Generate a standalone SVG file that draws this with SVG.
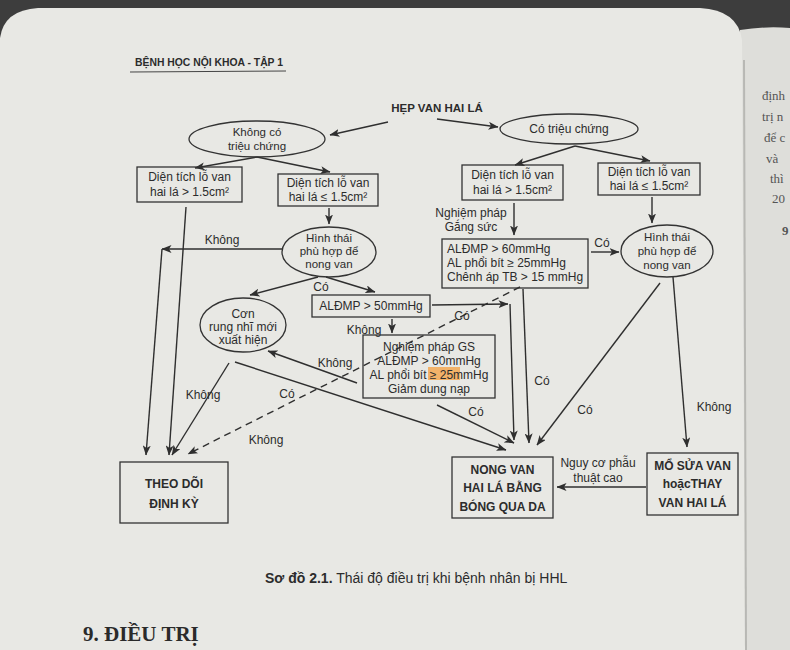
<svg xmlns="http://www.w3.org/2000/svg" width="790" height="650" viewBox="0 0 790 650">
<defs>
<marker id="ah" markerUnits="userSpaceOnUse" markerWidth="10" markerHeight="8" refX="9.5" refY="4" orient="auto">
<path d="M0,0 L10,4 L0,8 L2.5,4 Z" fill="#2f2f2f"/>
</marker>
<style>
.t{font-family:"Liberation Sans",Arial,sans-serif;font-size:12px;fill:#2c2c2c;text-anchor:middle}
.l{text-anchor:start}
.b{font-weight:bold}
.n{fill:none;stroke:#333;stroke-width:1.3}
.c{fill:none;stroke:#2f2f2f;stroke-width:1.4}
.a{marker-end:url(#ah)}
.d{stroke-dasharray:7 5}
.pg{font-family:"Liberation Serif",serif;font-size:13px;fill:#555}
</style>
</defs>
<rect width="790" height="650" fill="#3d3d3d"/>
<path d="M740,30 Q765,26 790,28 L790,650 L738,650 Z" fill="#dededa"/>
<path d="M0,38 Q4,10 38,8 L700,8 Q738,10 742,40 L745,650 L0,650 Z" fill="#e8e8e4"/>
<line x1="744" y1="60" x2="746" y2="650" stroke="#b8b8b4" stroke-width="2"/>
<g id="next-page">
<text class="pg" x="762" y="100">định</text>
<text class="pg" x="762" y="121">trị n</text>
<text class="pg" x="764" y="142">để c</text>
<text class="pg" x="766" y="163">và</text>
<text class="pg" x="770" y="183">thì</text>
<text class="pg" x="772" y="203">20</text>
<text class="pg" x="782" y="235" style="font-weight:bold">9</text>
</g>
<g id="header">
<text class="t l b" x="135" y="66" style="font-family:'Liberation Sans Narrow','Liberation Sans',sans-serif;font-size:11.5px" textLength="148" lengthAdjust="spacingAndGlyphs">BỆNH HỌC NỘI KHOA - TẬP 1</text>
<line x1="130" y1="72" x2="286" y2="71" stroke="#444" stroke-width="1"/>
</g>
<g id="connectors">
<line class="c a" x1="388" y1="122" x2="330" y2="135"/>
<line class="c a" x1="437" y1="119" x2="498" y2="127"/>
<line class="c a" x1="257" y1="157" x2="195" y2="168"/>
<line class="c a" x1="257" y1="157" x2="330" y2="172"/>
<line class="c a" x1="575" y1="146" x2="515" y2="165"/>
<line class="c a" x1="575" y1="146" x2="650" y2="161"/>
<line class="c a" x1="329" y1="208" x2="329" y2="224"/>
<line class="c a" x1="652" y1="197" x2="652" y2="223"/>
<line class="c a" x1="514" y1="203" x2="514" y2="235"/>
<line class="c a" x1="591" y1="252" x2="619" y2="252"/>
<line class="c a" x1="282" y1="249" x2="162" y2="249"/>
<line class="c a" x1="162" y1="249" x2="146" y2="455"/>
<line class="c a" x1="186" y1="207" x2="169" y2="455"/>
<line class="c a" x1="318" y1="277" x2="250" y2="295"/>
<line class="c a" x1="326" y1="277" x2="375" y2="292"/>
<line class="c a" x1="432" y1="305" x2="508" y2="304"/>
<line class="c a" x1="510" y1="304" x2="514" y2="440"/>
<line class="c a" x1="392" y1="319" x2="392" y2="333"/>
<line class="c a" x1="357" y1="383" x2="268" y2="351"/>
<line class="c a" x1="229" y1="363" x2="172" y2="455"/>
<line class="c a" x1="235" y1="362" x2="506" y2="450"/>
<line class="c a" x1="437" y1="405" x2="514" y2="443"/>
<line class="c a d" x1="520" y1="287" x2="188" y2="454"/>
<line class="c a" x1="523" y1="289" x2="529" y2="443"/>
<line class="c a" x1="660" y1="283" x2="537" y2="445"/>
<line class="c a" x1="673" y1="277" x2="687" y2="447"/>
<line class="c a" x1="646" y1="487" x2="557" y2="487"/>
</g>
<g id="labels">
<text class="t" x="222" y="244">Không</text>
<text class="t" x="321" y="291">Có</text>
<text class="t" x="471" y="217">Nghiệm pháp</text>
<text class="t" x="471" y="231">Gắng sức</text>
<text class="t" x="602" y="247">Có</text>
<text class="t" x="462" y="320">Có</text>
<text class="t" x="364" y="334">Không</text>
<text class="t" x="335" y="367">Không</text>
<text class="t" x="203" y="399">Không</text>
<text class="t" x="287" y="398">Có</text>
<text class="t" x="266" y="444">Không</text>
<text class="t" x="476" y="416">Có</text>
<text class="t" x="542" y="385">Có</text>
<text class="t" x="585" y="414">Có</text>
<text class="t" x="714" y="411">Không</text>
<text class="t" x="598" y="467">Nguy cơ phẫu</text>
<text class="t" x="598" y="482">thuật cao</text>
</g>
<g id="n-root"><text class="t b" x="437" y="112" style="font-size:11.5px">HẸP VAN HAI LÁ</text></g>
<g id="n-khongtc">
<ellipse class="n" cx="257" cy="139" rx="68" ry="18"/>
<text class="t" x="257" y="136" style="font-size:11.5px">Không có</text>
<text class="t" x="257" y="150" style="font-size:11.5px">triệu chứng</text>
</g>
<g id="n-cotc">
<ellipse class="n" cx="569" cy="129" rx="69" ry="15"/>
<text class="t" x="569" y="133">Có triệu chứng</text>
</g>
<g id="n-dt1">
<rect class="n" x="137" y="167" width="105" height="35"/>
<text class="t" x="189.5" y="181">Diện tích lỗ van</text>
<text class="t" x="189.5" y="196">hai lá &gt; 1.5cm²</text>
</g>
<g id="n-dt2">
<rect class="n" x="278" y="174" width="100" height="32"/>
<text class="t" x="328" y="187">Diện tích lỗ van</text>
<text class="t" x="328" y="201">hai lá ≤ 1.5cm²</text>
</g>
<g id="n-dt3">
<rect class="n" x="462" y="165" width="101" height="35"/>
<text class="t" x="512.5" y="179">Diện tích lỗ van</text>
<text class="t" x="512.5" y="194">hai lá &gt; 1.5cm²</text>
</g>
<g id="n-dt4">
<rect class="n" x="598" y="163" width="102" height="32"/>
<text class="t" x="649" y="176">Diện tích lỗ van</text>
<text class="t" x="649" y="190">hai lá ≤ 1.5cm²</text>
</g>
<g id="n-hinhthai1">
<ellipse class="n" cx="329" cy="252" rx="47" ry="25"/>
<text class="t" x="329" y="242" style="font-size:11.5px">Hình thái</text>
<text class="t" x="329" y="255" style="font-size:11.5px">phù hợp để</text>
<text class="t" x="329" y="268" style="font-size:11.5px">nong van</text>
</g>
<g id="n-hinhthai2">
<ellipse class="n" cx="667" cy="251" rx="46" ry="26"/>
<text class="t" x="667" y="241" style="font-size:11.5px">Hình thái</text>
<text class="t" x="667" y="255" style="font-size:11.5px">phù hợp để</text>
<text class="t" x="667" y="269" style="font-size:11.5px">nong van</text>
</g>
<g id="n-gs1">
<rect class="n" x="442" y="239" width="146" height="49"/>
<text class="t l" x="447" y="253">ALĐMP &gt; 60mmHg</text>
<text class="t l" x="447" y="267">AL phổi bít ≥ 25mmHg</text>
<text class="t l" x="447" y="281">Chênh áp TB &gt; 15 mmHg</text>
</g>
<g id="n-aldmp50">
<rect class="n" x="312" y="295" width="118" height="22"/>
<text class="t" x="371" y="310">ALĐMP &gt; 50mmHg</text>
</g>
<g id="n-gs2">
<rect class="n" x="363" y="335" width="132" height="63"/>
<rect x="428" y="367" width="32" height="13" fill="#f5a040" opacity="0.75"/>
<text class="t" x="429" y="351">Nghiệm pháp GS</text>
<text class="t" x="429" y="365">ALĐMP &gt; 60mmHg</text>
<text class="t" x="429" y="379">AL phổi bít ≥ 25mmHg</text>
<text class="t" x="429" y="393">Giảm dung nạp</text>
</g>
<g id="n-conrung">
<ellipse class="n" cx="243" cy="325" rx="43" ry="27"/>
<text class="t" x="243" y="318">Cơn</text>
<text class="t" x="243" y="331">rung nhĩ mới</text>
<text class="t" x="243" y="344">xuất hiện</text>
</g>
<g id="n-theodoi">
<rect class="n" x="120" y="462" width="108" height="61"/>
<text class="t b" x="174" y="488">THEO DÕI</text>
<text class="t b" x="174" y="508">ĐỊNH KỲ</text>
</g>
<g id="n-nongvan">
<rect class="n" x="452" y="457" width="101" height="61"/>
<text class="t b" x="502.5" y="474">NONG VAN</text>
<text class="t b" x="502.5" y="492">HAI LÁ BẰNG</text>
<text class="t b" x="502.5" y="511">BÓNG QUA DA</text>
</g>
<g id="n-mo">
<rect class="n" x="647" y="453" width="91" height="62"/>
<text class="t b" x="692.5" y="470">MỔ SỬA VAN</text>
<text class="t b" x="692.5" y="488">hoặcTHAY</text>
<text class="t b" x="692.5" y="507">VAN HAI LÁ</text>
</g>
<g id="caption">
<text class="t l" x="265" y="583" style="font-size:14px"><tspan class="b">Sơ đồ 2.1.</tspan> Thái độ điều trị khi bệnh nhân bị HHL</text>
<text x="83" y="641" style="font-family:'Liberation Serif',serif;font-size:21px;font-weight:bold;fill:#2a2a2a">9. ĐIỀU TRỊ</text>
</g>
</svg>
